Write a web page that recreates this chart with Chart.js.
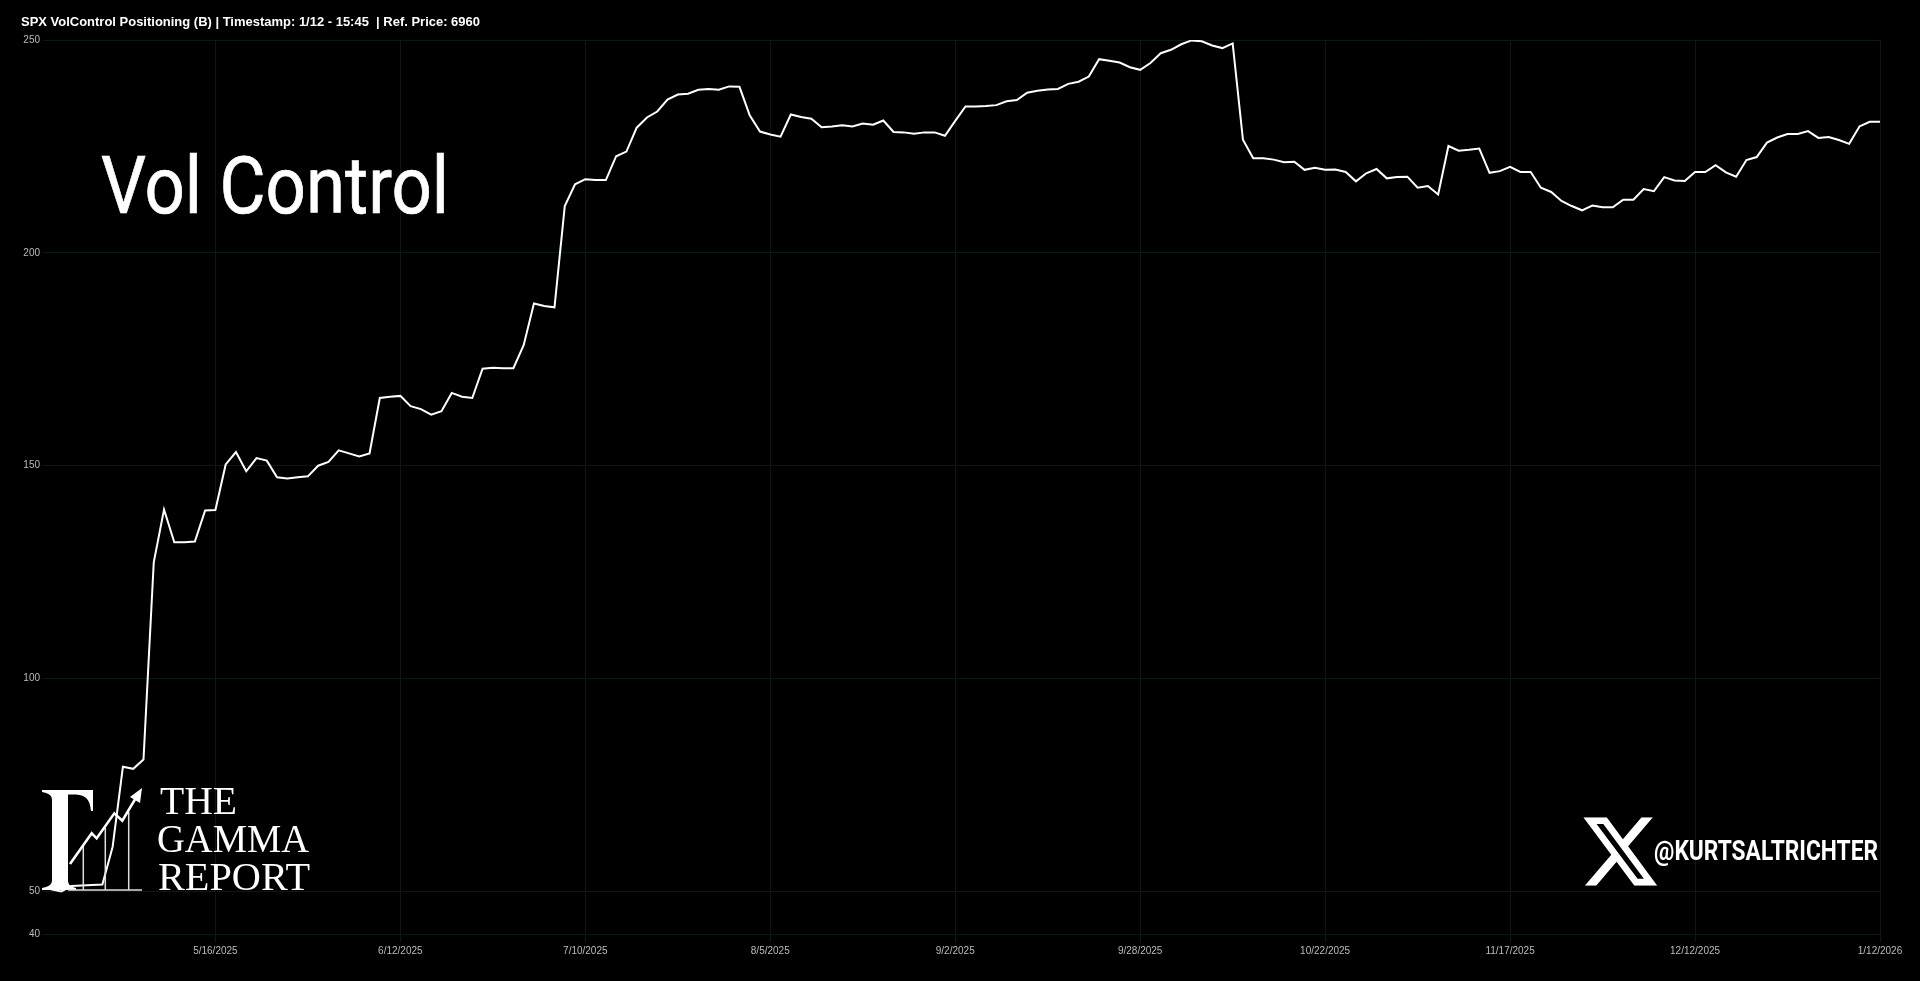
<!DOCTYPE html>
<html lang="en">
<head>
    <meta charset="UTF-8">
    <title>SPX VolControl Positioning</title>
    <script src="https://cdn.jsdelivr.net/npm/chart.js"></script>
    <style>
        html, body { margin: 0; padding: 0; background: #000; overflow: hidden; }
        #wrap { position: relative; width: 1920px; height: 981px; }
        canvas { position: absolute; left: 0; top: 0; }
        #overlay { position: absolute; left: 0; top: 0; pointer-events: none; }
    </style>
</head>
<body>
    <div id="wrap">
        <canvas id="chart" width="1920" height="981"></canvas>
        <svg id="overlay" width="1920" height="981" xmlns="http://www.w3.org/2000/svg">
            <text x="21" y="26" font-family="Liberation Sans" font-weight="700" font-size="13" fill="#fff" textLength="459" lengthAdjust="spacingAndGlyphs" xml:space="preserve">SPX VolControl Positioning (B) | Timestamp: 1/12 - 15:45  | Ref. Price: 6960</text>
            <text x="101" y="213" font-family="Roboto" font-size="80" fill="#fff" stroke="#fff" stroke-width="0.7" textLength="348" lengthAdjust="spacingAndGlyphs">Vol Control</text>

            <!-- logo, bottom left -->
            <path fill="#fff" d="M42 790H93V811L91 811C90 800 86 795 76 794.5L68 794.5V880C68 885 71 887 76 888V890H42V888C48 887 52 885 52 880V800C52 795 48 793 42 792Z"/>
            <path d="M68 890H142M83.3 890V845M105.3 890V828M128.7 890V812" stroke="#ddd" stroke-width="1.5" fill="none"/>
            <path d="M70 864L91.7 833.3L96.7 838.3L114.3 813.3L122.3 820.7L137 796" stroke="#fff" stroke-width="2.5" fill="none"/>
            <path d="M142 788L140 803L130 797Z" fill="#fff"/>
            <text x="160" y="814" font-family="Liberation Serif" font-size="39" fill="#fff" textLength="77" lengthAdjust="spacingAndGlyphs">THE</text>
            <text x="157" y="852" font-family="Liberation Serif" font-size="39" fill="#fff" textLength="152" lengthAdjust="spacingAndGlyphs">GAMMA</text>
            <text x="158" y="890" font-family="Liberation Serif" font-size="39" fill="#fff" textLength="152" lengthAdjust="spacingAndGlyphs">REPORT</text>

            <!-- handle, bottom right -->
            <svg x="1583.3" y="817.3" width="74" height="68.4" viewBox="1.254 2.25 21.573 19.5" preserveAspectRatio="none">
                <path fill="#fff" d="M18.244 2.25h3.308l-7.227 8.26 8.502 11.24H16.17l-5.214-6.817L4.99 21.75H1.68l7.73-8.835L1.254 2.25H8.08l4.713 6.231zm-1.161 17.52h1.833L7.084 4.126H5.117z"/>
            </svg>
            <text x="1654" y="860" font-family="Roboto" font-weight="700" font-size="27" fill="#fff" textLength="224" lengthAdjust="spacingAndGlyphs">@KURTSALTRICHTER</text>
        </svg>
    </div>

    <script>
        // One value per point
        const volControl = [
            50.5, 50.0, 51.3, 51.4, 51.5, 51.6, 60.5, 79.3, 78.8, 81.0,
            127.3, 139.7, 132.0, 132.0, 132.2, 139.5, 139.6, 150.3, 153.2, 148.7,
            151.8, 151.2, 147.3, 147.0, 147.3, 147.5, 150.0, 150.9, 153.6, 152.9,
            152.2, 152.9, 165.9, 166.2, 166.4, 164.0, 163.3, 162.0, 162.8, 167.1,
            166.2, 165.9, 172.8, 173.0, 172.9, 172.9, 178.3, 188.1, 187.5, 187.2,
            211.0, 216.1, 217.3, 217.1, 217.1, 222.7, 223.8, 229.4, 231.8, 233.2,
            236.0, 237.2, 237.4, 238.3, 238.5, 238.3, 239.1, 239.0, 232.3, 228.5,
            227.8, 227.3, 232.5, 231.9, 231.5, 229.5, 229.7, 230.0, 229.7, 230.4,
            230.1, 231.1, 228.4, 228.3, 228.0, 228.3, 228.3, 227.5, 231.0, 234.4,
            234.4, 234.5, 234.7, 235.6, 235.9, 237.6, 238.1, 238.4, 238.5, 239.7,
            240.2, 241.4, 245.5, 245.1, 244.7, 243.6, 243.0, 244.6, 246.9, 247.7,
            249.0, 249.9, 249.7, 248.7, 248.1, 249.2, 226.6, 222.2, 222.2, 221.9,
            221.3, 221.4, 219.5, 220.0, 219.5, 219.6, 219.0, 216.8, 218.7, 219.7,
            217.5, 217.8, 217.9, 215.3, 215.7, 213.7, 225.1, 224.0, 224.2, 224.5,
            218.8, 219.2, 220.2, 219.0, 219.0, 215.3, 214.3, 212.2, 211.0, 210.0,
            211.1, 210.7, 210.7, 212.5, 212.5, 215.0, 214.5, 217.8, 217.0, 216.9,
            219.0, 219.0, 220.6, 218.9, 217.9, 221.8, 222.5, 225.9, 227.1, 227.9,
            227.9, 228.6, 227.0, 227.2, 226.5, 225.6, 229.7, 230.8, 230.8
        ];
        const xTickLabels = ["5/16/2025", "6/12/2025", "7/10/2025", "8/5/2025", "9/2/2025", "9/28/2025", "10/22/2025", "11/17/2025", "12/12/2025", "1/12/2026"];
        const yTickValues = [40, 50, 100, 150, 200, 250];

        // Only every 18th point carries a date in the picture, starting at point 16
        const categories = volControl.map((_, i) => (i >= 16 && (i - 16) % 18 === 0) ? xTickLabels[(i - 16) / 18] : "");

        const gridColor = "#0b1818";
        const labelFont = { family: "Liberation Sans", size: 10 };

        new Chart(document.getElementById("chart").getContext("2d"), {
            type: "line",
            data: {
                labels: categories,
                datasets: [{
                    data: volControl,
                    borderColor: "#ffffff",
                    borderWidth: 2,
                    pointRadius: 0,
                    tension: 0,
                    fill: false,
                    borderJoinStyle: "miter"
                }]
            },
            options: {
                responsive: false,
                animation: false,
                layout: { padding: { top: 40, right: 40, left: 0, bottom: 0 } },
                plugins: { legend: { display: false }, title: { display: false }, tooltip: { enabled: false } },
                scales: {
                    x: {
                        type: "category",
                        offset: false,
                        afterBuildTicks: scale => { scale.ticks = scale.ticks.filter(t => categories[t.value] !== ""); },
                        afterFit: scale => { scale.height = 47; },
                        border: { display: false },
                        grid: { color: gridColor, lineWidth: 1, tickLength: 8 },
                        ticks: { color: "#bbbbbb", font: labelFont, autoSkip: false, maxRotation: 0, minRotation: 0, padding: 3 }
                    },
                    y: {
                        min: 40,
                        max: 250,
                        afterBuildTicks: scale => { scale.ticks = yTickValues.map(value => ({ value })); },
                        afterFit: scale => { scale.width = 51; },
                        border: { display: false },
                        grid: { color: gridColor, lineWidth: 1, tickLength: 8 },
                        ticks: { color: "#bbbbbb", font: labelFont, padding: 3 }
                    }
                }
            }
        });
    </script>
</body>
</html>
